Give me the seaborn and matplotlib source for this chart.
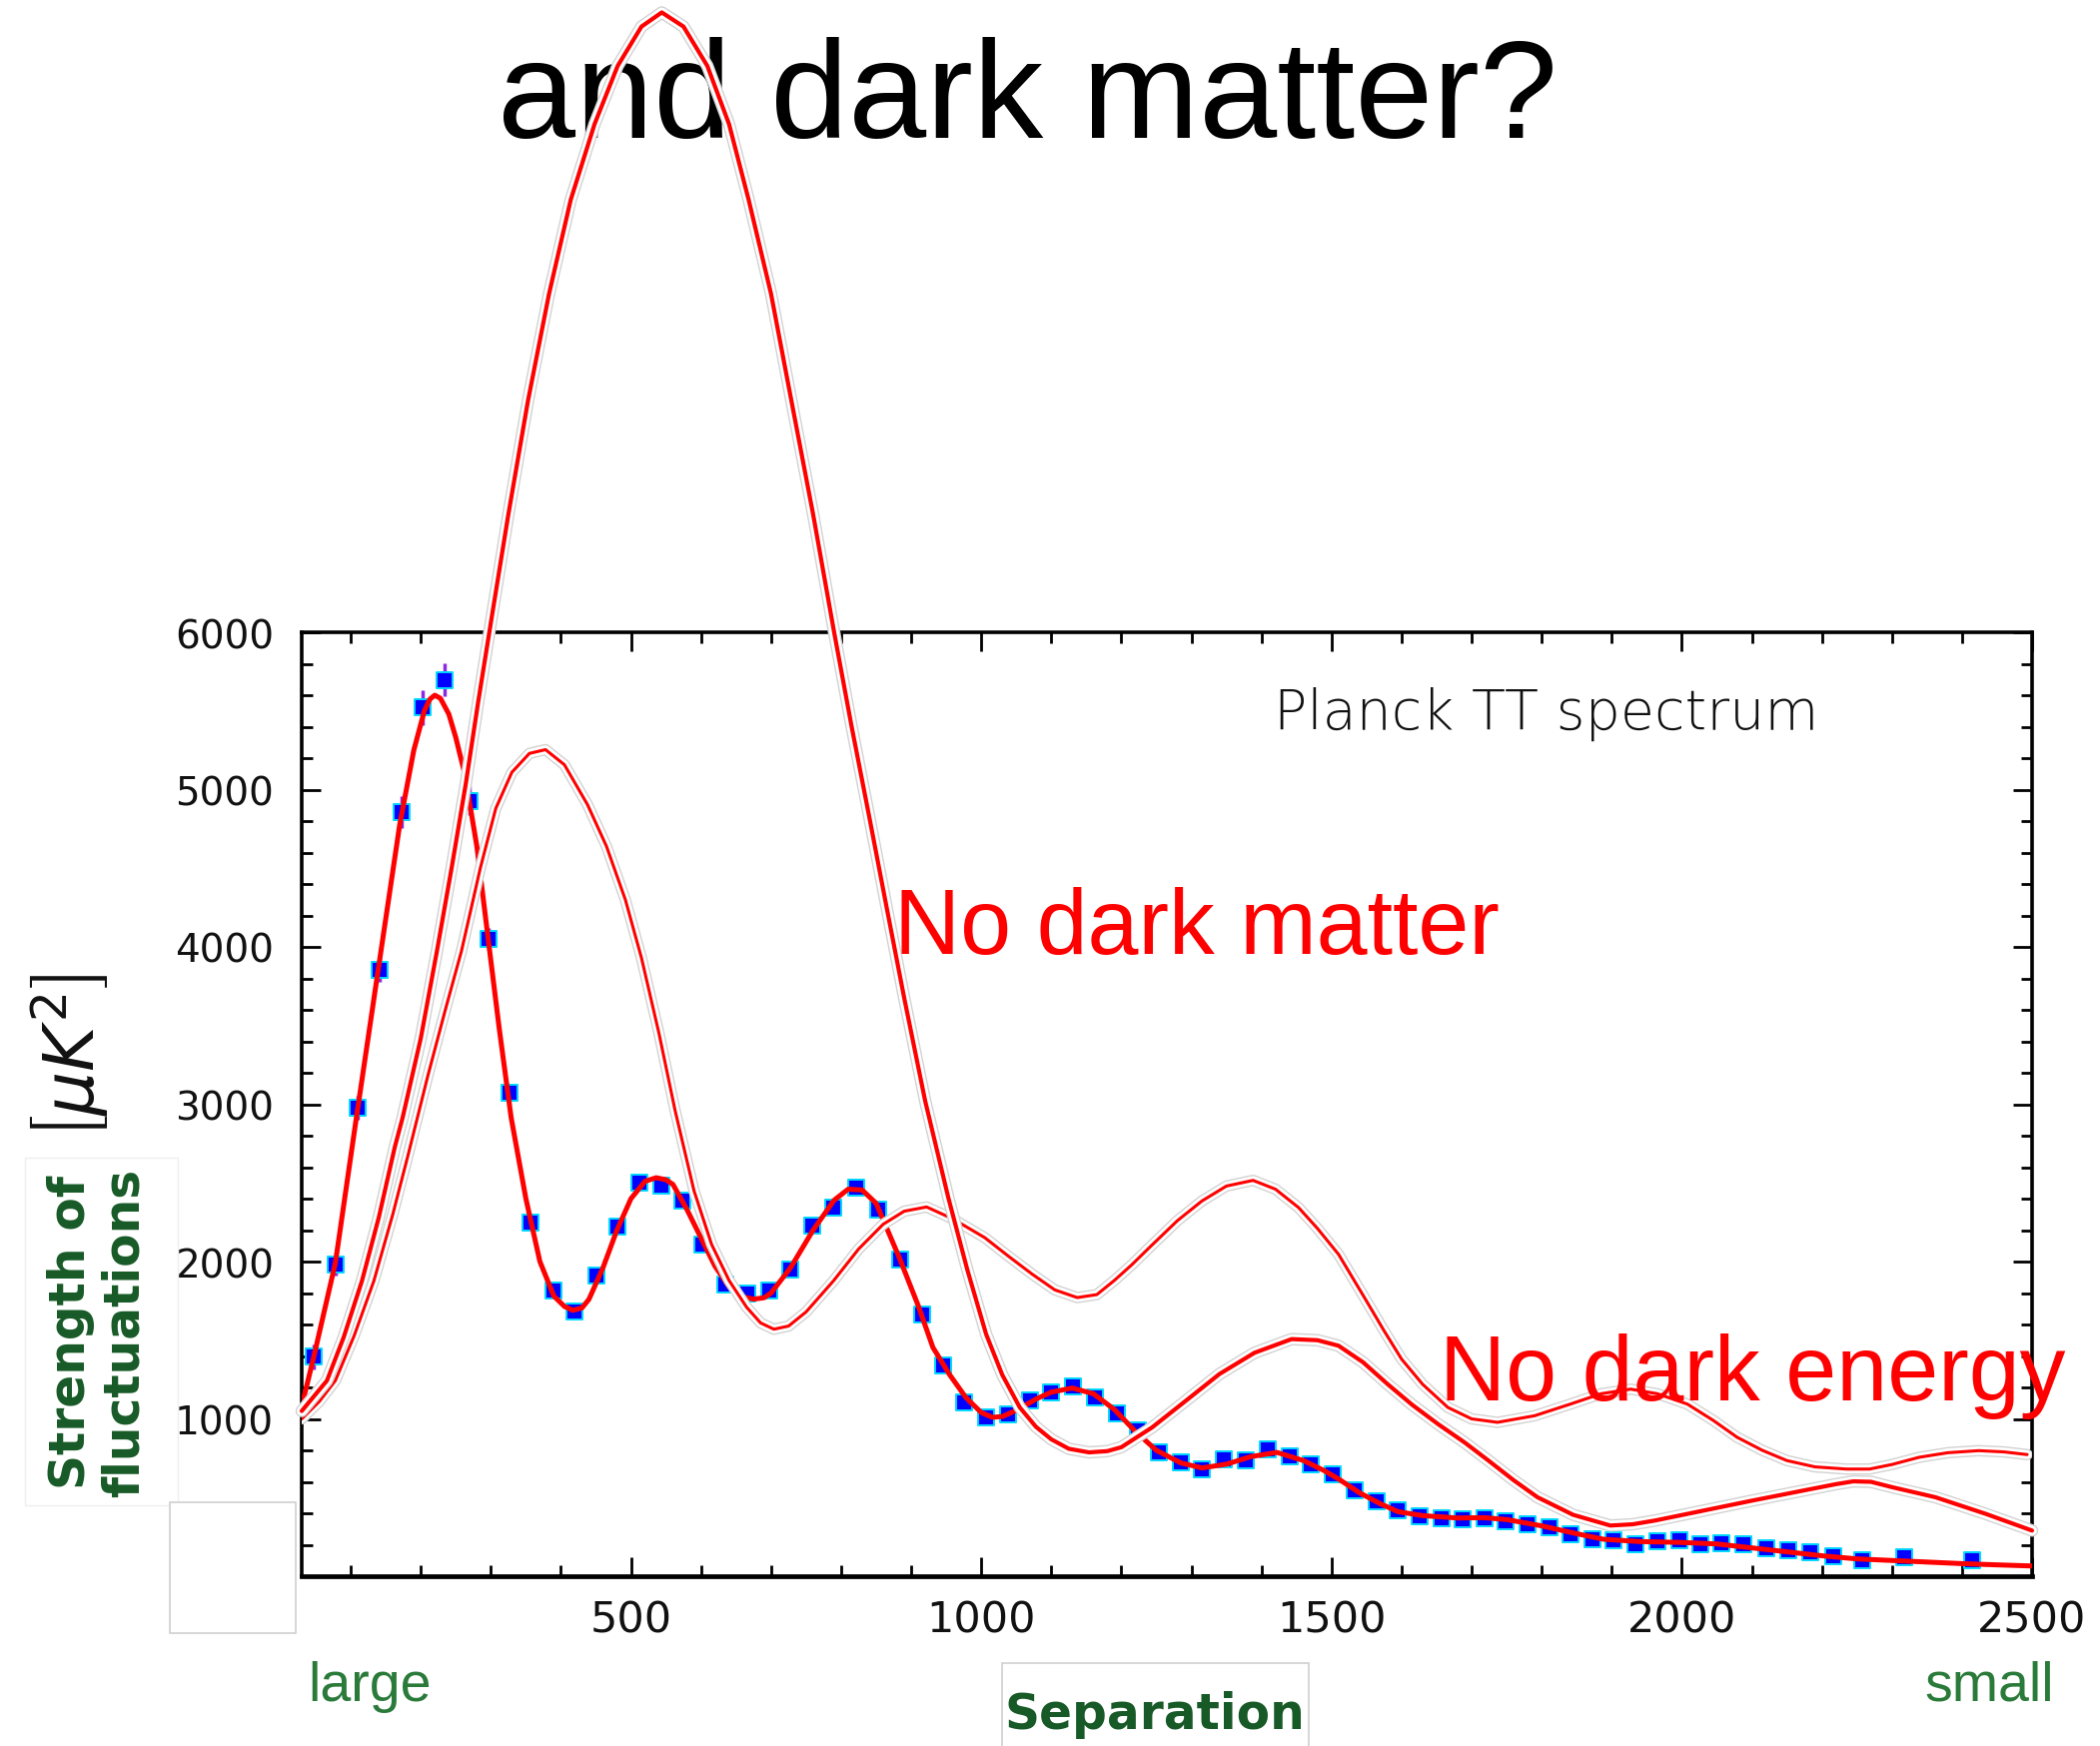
import numpy as np
import pandas as pd
import matplotlib
matplotlib.use("Agg")
import matplotlib.pyplot as plt
import matplotlib.patheffects as pe
from matplotlib.patches import Rectangle
from matplotlib.ticker import MultipleLocator, FixedLocator, FuncFormatter
from matplotlib import font_manager as fm
import seaborn as sns

# ---------------- data ----------------
# Planck binned TT points: multipole and D_l [muK^2]
ell_data = [47, 78, 110, 141, 172, 202, 234, 269, 296, 327, 357, 389, 419, 450, 481,
            512, 544, 574, 602, 634, 666, 697, 728, 759, 789, 821, 853, 884, 915, 946,
            976, 1007, 1038, 1069, 1100, 1131, 1163, 1193, 1224, 1254, 1285, 1315, 1347,
            1377, 1409, 1440, 1471, 1502, 1533, 1564, 1595, 1626, 1657, 1687, 1718, 1749,
            1780, 1811, 1841, 1872, 1903, 1934, 1965, 1996, 2026, 2057, 2088, 2121, 2152,
            2183, 2216, 2258, 2318, 2415]
dl_data = [1395, 1983, 2979, 3857, 4858, 5522, 5698, 4930, 4051, 3070, 2248, 1818, 1683,
           1909, 2222, 2502, 2480, 2389, 2110, 1856, 1797, 1814, 1951, 2231, 2343, 2470,
           2332, 2015, 1665, 1338, 1105, 1010, 1027, 1116, 1168, 1204, 1137, 1035, 925,
           787, 724, 681, 745, 738, 808, 760, 713, 650, 548, 476, 417, 379, 370, 364, 370,
           349, 332, 311, 265, 237, 227, 205, 222, 230, 205, 210, 201, 180, 167, 152, 125,
           100, 121, 100]
# error bars visible on the low-multipole points
ell_err = [47, 78, 110, 141, 172, 202, 234, 269, 296, 327]
dl_err_y = [1395, 1983, 2979, 3857, 4858, 5522, 5698, 4930, 4051, 3070]
dl_err = [80, 75, 75, 80, 100, 110, 105, 90, 70, 55]

# best-fit LCDM model
ell_fit = [30, 47, 78, 108, 140, 170, 190, 205, 213, 220, 228, 240, 250, 263, 280, 296,
           312, 329, 350, 370, 390, 405, 417, 430, 440, 460, 480, 500, 520, 536, 550, 560,
           580, 600, 620, 640, 660, 675, 690, 700, 728, 760, 790, 810, 830, 850, 883,
           910, 931, 955, 978, 1000, 1016, 1030, 1049, 1080, 1100, 1130, 1160, 1190, 1220,
           1250, 1285, 1315, 1350, 1385, 1422, 1460, 1490, 1510, 1540, 1570, 1595, 1630,
           1680, 1718, 1750, 1800, 1850, 1888, 1940, 1996, 2050, 2100, 2150, 2200, 2250,
           2300, 2350, 2400, 2450, 2500]
dl_fit = [1080, 1390, 1990, 2914, 3880, 4780, 5250, 5500, 5575, 5600, 5580, 5480, 5330,
          5094, 4640, 4057, 3480, 2914, 2400, 2000, 1780, 1715, 1690, 1705, 1760, 1960,
          2200, 2400, 2510, 2533, 2520, 2490, 2330, 2150, 1970, 1840, 1775, 1761, 1770,
          1800, 1962, 2200, 2390, 2460, 2455, 2370, 2025, 1720, 1454, 1280, 1136, 1040,
          1010, 1015, 1052, 1130, 1170, 1196, 1160, 1060, 920, 800, 720, 688, 712, 760,
          787, 735, 670, 618, 530, 460, 410, 385, 370, 372, 360, 320, 270, 235, 220, 215,
          205, 180, 155, 130, 110, 100, 90, 80, 72, 65]

# model without dark energy
ell_nde = [30, 55, 78, 105, 133, 160, 182, 210, 235, 258, 285, 307, 330, 355, 378, 405,
           438, 465, 492, 515, 540, 563, 590, 615, 640, 665, 685, 704, 725, 750, 789,
           825, 860, 890, 922, 960, 1005, 1040, 1073, 1105, 1137, 1165, 1190, 1215, 1240,
           1280, 1315, 1350, 1388, 1420, 1453, 1480, 1510, 1547, 1575, 1600, 1630, 1666,
           1700, 1737, 1790, 1841, 1885, 1927, 1965, 2008, 2045, 2079, 2115, 2150, 2190,
           2235, 2268, 2300, 2339, 2380, 2424, 2460, 2493]
dl_nde = [1000, 1110, 1243, 1530, 1877, 2300, 2680, 3180, 3600, 3973, 4502, 4880, 5110,
          5230, 5254, 5158, 4904, 4640, 4300, 3930, 3450, 2960, 2450, 2110, 1880, 1710,
          1610, 1570, 1590, 1680, 1877, 2080, 2237, 2320, 2347, 2270, 2152, 2030, 1919,
          1820, 1771, 1790, 1880, 1980, 2089, 2260, 2385, 2480, 2516, 2460, 2343, 2210,
          2046, 1771, 1560, 1380, 1220, 1073, 1000, 978, 1020, 1094, 1160, 1189, 1160,
          1094, 990, 883, 800, 735, 695, 681, 681, 710, 756, 785, 798, 790, 773]

# model without dark matter
ell_ndm = [30, 66, 90, 116, 140, 163, 174, 200, 223, 244, 264, 282, 301, 325, 353, 383,
           414, 448, 481, 515, 544, 575, 609, 640, 668, 700, 729, 760, 790, 815, 840, 865,
           890, 920, 953, 980, 1007, 1030, 1055, 1078, 1100, 1125, 1154, 1180, 1200, 1244,
           1292, 1340, 1390, 1443, 1480, 1510, 1545, 1580, 1615, 1652, 1690, 1724, 1760,
           1794, 1845, 1898, 1930, 1962, 2031, 2100, 2173, 2220, 2245, 2270, 2301, 2362,
           2434, 2500]
dl_ndm = [1050, 1243, 1520, 1877, 2280, 2730, 2914, 3420, 3973, 4502, 5031, 5560, 6089,
          6750, 7472, 8150, 8749, 9230, 9600, 9850, 9940, 9850, 9600, 9230, 8749, 8150,
          7472, 6750, 6000, 5400, 4830, 4250, 3676, 3020, 2406, 1950, 1538, 1280, 1073,
          950, 870, 810, 787, 795, 820, 946, 1115, 1285, 1420, 1507, 1500, 1465, 1360,
          1221, 1090, 967, 850, 735, 610, 502, 390, 322, 330, 354, 417, 480, 544, 585,
          603, 600, 565, 502, 396, 290]

x_major = [500, 1000, 1500, 2000, 2500]

# ---------------- styling ----------------
sns.set_theme(style="white")
plt.rcParams["font.family"] = ["DejaVu Sans"]
plt.rcParams["mathtext.fontset"] = "dejavusans"

names = {f.name for f in fm.fontManager.ttflist}
NARROW = "Liberation Sans Narrow" if "Liberation Sans Narrow" in names else "DejaVu Sans"
SANS = "Liberation Sans" if "Liberation Sans" in names else "DejaVu Sans"

W, H = 2102, 1749
fig = plt.figure(figsize=(W / 100, H / 100), dpi=100, facecolor="white")


def fx(px):
    return px / W


def fy(py):
    return 1 - py / H


ax = fig.add_axes([fx(302), fy(1579), (2034 - 302) / W, (1579 - 634) / H])
ax.set_facecolor("white")

RED = "#ff0000"
GREEN_B = "#175a27"
GREEN_L = "#2a7a3a"

# error bars + data points
ax.errorbar(ell_err, dl_err_y, yerr=dl_err, fmt="none", ecolor="#8a2be2",
            elinewidth=2.5, capsize=0, zorder=2)
sns.scatterplot(x=ell_data, y=dl_data, marker="s", s=120, color="#0000ff",
                edgecolor="#00d8ff", linewidth=1.4, ax=ax, zorder=3, legend=False)

# best fit
sns.lineplot(x=ell_fit, y=dl_fit, color=RED, lw=3.6, ax=ax, estimator=None,
             sort=False, zorder=4, legend=False)

halo = lambda lw: [pe.Stroke(linewidth=lw + 6, foreground="#d2d2d2"),
                   pe.Stroke(linewidth=lw + 4, foreground="white"),
                   pe.Normal()]

# no dark energy
sns.lineplot(x=ell_nde, y=dl_nde, color=RED, lw=2.2, ax=ax, estimator=None,
             sort=False, zorder=5, legend=False)
ax.lines[-1].set_path_effects(halo(2.2))

# no dark matter (runs past the top of the frame)
sns.lineplot(x=ell_ndm, y=dl_ndm, color=RED, lw=3.0, ax=ax, estimator=None,
             sort=False, zorder=6, legend=False)
ax.lines[-1].set_path_effects(halo(3.0))
ax.lines[-1].set_clip_on(False)

ax.set_xlim(30, 2500)
ax.set_ylim(0, 6000)
ax.set_xlabel("")
ax.set_ylabel("")

ax.xaxis.set_major_locator(FixedLocator(x_major))
ax.xaxis.set_minor_locator(MultipleLocator(100))
ax.yaxis.set_major_locator(MultipleLocator(1000))
ax.yaxis.set_minor_locator(MultipleLocator(200))
ax.yaxis.set_major_formatter(FuncFormatter(lambda v, p: "" if v == 0 else f"{int(v)}"))

ax.tick_params(which="both", direction="in", top=True, right=True,
               bottom=True, left=True, color="black", width=2)
ax.tick_params(which="major", length=14)
ax.tick_params(which="minor", length=8)
ax.tick_params(axis="y", which="major", labelsize=28, pad=20, labelcolor="#111111")
ax.tick_params(axis="x", which="major", labelsize=31, pad=16, labelcolor="#111111")
for lab in ax.get_xticklabels():
    lab.set_family(NARROW)
for lab in ax.get_yticklabels():
    lab.set_family("DejaVu Sans")

for s in ax.spines.values():
    s.set_color("black")
    s.set_linewidth(2.6)
    s.set_visible(True)
ax.spines["bottom"].set_linewidth(3.4)

# ---------------- texts ----------------
fig.text(fx(1029), fy(138), "and dark matter?", ha="center", va="baseline",
         fontsize=101, family=SANS, color="black", zorder=-1)

fig.text(fx(1275), fy(730), "Planck TT spectrum", ha="left", va="baseline",
         fontsize=40, family="DejaVu Sans", weight="light", color="#111111")

fig.text(fx(895), fy(955), "No dark matter", ha="left", va="baseline",
         fontsize=66, family=SANS, color=RED)
fig.text(fx(1441), fy(1402), "No dark energy", ha="left", va="baseline",
         fontsize=66, family=SANS, color=RED)

fig.text(fx(69), fy(1058), r"$\left[\mu K^{2}\right]$", rotation=90, ha="center",
         va="center", fontsize=50, color="#111111")

# faint slide boxes
fig.add_artist(Rectangle((fx(25), fy(1508)), (178 - 25) / W, (1508 - 1160) / H,
                         transform=fig.transFigure, fc="white", ec="#efefef", lw=1.0))
fig.add_artist(Rectangle((fx(170), fy(1636)), (296 - 170) / W, (1636 - 1505) / H,
                         transform=fig.transFigure, fc="white", ec="#cfcfcf", lw=1.2))
fig.add_artist(Rectangle((fx(1003), fy(1752)), (1310 - 1003) / W, (1752 - 1666) / H,
                         transform=fig.transFigure, fc="white", ec="#cfcfcf", lw=1.2))

fig.text(fx(98), fy(1334), "Strength of\nfluctuations", rotation=90, ha="center",
         va="center", multialignment="center", fontsize=35, weight="bold",
         family=NARROW, color=GREEN_B, linespacing=1.15, zorder=5)
fig.text(fx(1156), fy(1717), "Separation", ha="center", va="center", fontsize=35,
         weight="bold", family=NARROW, color=GREEN_B, zorder=5)
fig.text(fx(370), fy(1689), "large", ha="center", va="center", fontsize=40,
         family=SANS, color=GREEN_L)
fig.text(fx(1991), fy(1689), "small", ha="center", va="center", fontsize=40,
         family=SANS, color=GREEN_L)

fig.savefig("out.png", dpi=100, facecolor="white")
